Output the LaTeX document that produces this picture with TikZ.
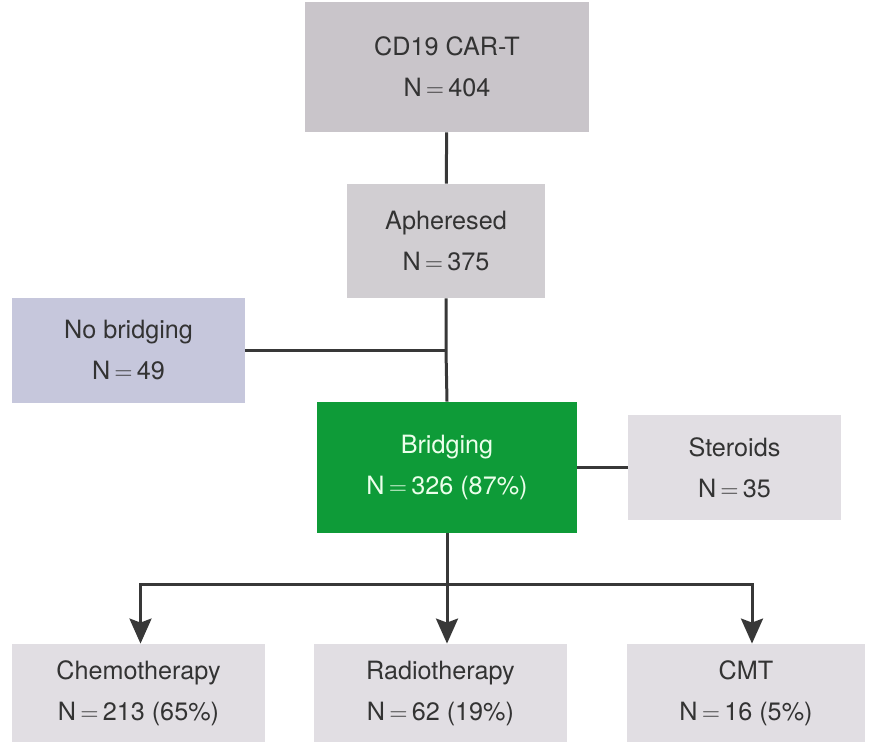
\documentclass[tikz,border=0pt]{standalone}
\usepackage{fontspec}
\setmainfont{TeX Gyre Heros}
\usetikzlibrary{arrows.meta}
\definecolor{boxgrey}{HTML}{C9C5CA}
\definecolor{boxlight}{HTML}{E1DEE3}
\definecolor{boxlav}{HTML}{C6C7DC}
\definecolor{boxgreen}{HTML}{0E9B38}
\definecolor{linegrey}{HTML}{383838}
\definecolor{txtgrey}{HTML}{333333}
\newcommand{\eqn}{\,$=$\,}
\tikzset{
  box/.style={rectangle, inner sep=0pt, align=center, text=txtgrey,
    font=\fontsize{12.6}{20.5}\selectfont},
  link/.style={draw=linegrey, line width=1.5pt},
  arr/.style={link, -{Stealth[length=12.5pt, width=11pt, inset=2pt]}}
}
\begin{document}
\begin{tikzpicture}[x=0.5pt, y=-0.5pt]
  \useasboundingbox (0,0) rectangle (869,742);
  \node[box, fill=boxgrey, minimum width=142pt, minimum height=65pt] (cart) at (447,67) {CD19 CAR-T\\N\eqn404};
  \node[box, fill=boxgrey!85!white, minimum width=99pt, minimum height=57pt] (aph) at (446,241) {Apheresed\\N\eqn375};
  \node[box, fill=boxlav, minimum width=116.5pt, minimum height=52.5pt] (nobr) at (128.5,350.5) {No bridging\\N\eqn49};
  \node[box, fill=boxgreen, text=green!8!white, minimum width=130pt, minimum height=65.5pt] (br) at (447,467.5) {Bridging\\N\eqn326 (87\%)};
  \node[box, fill=boxlight, minimum width=106.5pt, minimum height=52.5pt] (ster) at (734.5,467.5) {Steroids\\N\eqn35};
  \node[box, fill=boxlight, minimum width=126.5pt, minimum height=49pt] (chemo) at (138.5,693) {Chemotherapy\\N\eqn213 (65\%)};
  \node[box, fill=boxlight, minimum width=126.5pt, minimum height=49pt] (radio) at (440.5,693) {Radiotherapy\\N\eqn62 (19\%)};
  \node[box, fill=boxlight, minimum width=119pt, minimum height=49pt] (cmt) at (746,693) {CMT\\N\eqn16 (5\%)};
  \coordinate (join) at (446,350.5);
  \coordinate (split) at (447,585);
  \begin{scope}[link]
    \draw (cart) -- (aph);
    \draw (aph.south) -- (join) -- (br.north);
    \draw (nobr) -- (join);
    \draw (br) -- (ster);
    \draw (br.south) -- (split);
  \end{scope}
  \draw[arr] (split) -| ([xshift=1pt]chemo.north);
  \draw[arr] (split) -- (split |- radio.north);
  \draw[arr] (split) -| ([xshift=3pt]cmt.north);
\end{tikzpicture}
\end{document}
